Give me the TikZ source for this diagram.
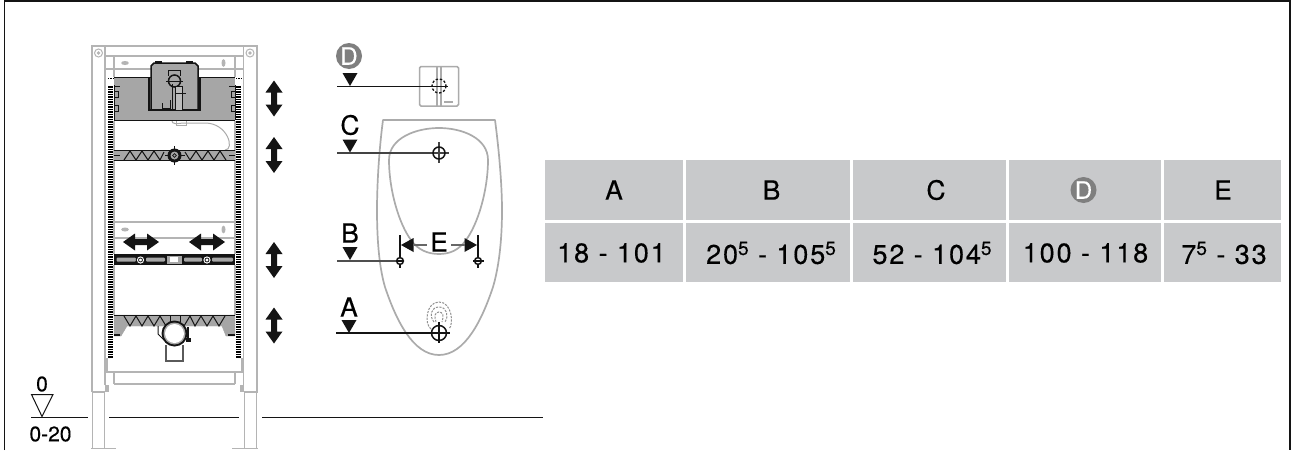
\documentclass[tikz,border=0pt]{standalone}
\usepackage{fontspec}
\setmainfont[FakeBold=0.3]{TeX Gyre Heros}
\newfontfamily\numf[LetterSpace=7,FakeBold=0.3]{TeX Gyre Heros}
\newcommand{\supf}[1]{\raisebox{0.33em}{\fontsize{19}{19}\selectfont\numf #1}}
\definecolor{cellg}{HTML}{C8C9CB}
\definecolor{fr}{HTML}{B4B4B4}
\definecolor{plate}{HTML}{A6A6A6}
\definecolor{ink}{HTML}{141414}
\definecolor{uri}{HTML}{ABABAB}
\definecolor{dee}{HTML}{7F7F7F}
\tikzset{
 x=1pt,y=-1pt,
 cell/.style={fill=cellg,draw=none,inner sep=0,outer sep=0},
 hdr/.style={font=\fontsize{26.5}{26.5}\selectfont,text=black,inner sep=0},
 val/.style={font=\fontsize{27}{27}\selectfont\numf,text=black,inner sep=0},
 lab/.style={font=\fontsize{26.5}{26.5}\selectfont,text=black,inner sep=0},
 deeglyph/.style={font=\fontsize{24}{24}\selectfont,text=white,inner sep=0},
 frameline/.style={draw=fr,line width=1.8},
 darkline/.style={draw=ink,line width=1.6},
 ruleline/.style={draw=ink,line width=1.6},
 rack/.style={draw=black,line width=5.5,dash pattern=on 1.5 off 1},
 bigarrow/.style={fill=ink,draw=none},
 markline/.style={draw=ink,line width=1.5},
 dashm/.style={draw=uri!85!black,line width=1,dash pattern=on 2.2 off 1.2},
 uriline/.style={draw=uri,line width=1.7},
}
\newcommand{\vdarrow}[2]{% centre y, x
 \fill[bigarrow] (#2,#1-18) -- (#2+8.5,#1-6) -- (#2+3,#1-6) -- (#2+3,#1+6) -- (#2+8.5,#1+6) -- (#2,#1+18) -- (#2-8.5,#1+6) -- (#2-3,#1+6) -- (#2-3,#1-6) -- (#2-8.5,#1-6) -- cycle;}
\newcommand{\hdarrow}[2]{% centre x, y
 \fill[bigarrow] (#1-18,#2) -- (#1-6,#2-8.5) -- (#1-6,#2-3) -- (#1+6,#2-3) -- (#1+6,#2-8.5) -- (#1+18,#2) -- (#1+6,#2+8.5) -- (#1+6,#2+3) -- (#1-6,#2+3) -- (#1-6,#2+8.5) -- cycle;}
\newcommand{\tri}[2]{% centre x, bottom y
 \fill[ink] (#1-7.5,#2-13) -- (#1+7.5,#2-13) -- (#1,#2) -- cycle;}
\begin{document}
\begin{tikzpicture}
\useasboundingbox (0,0) rectangle (1292,450);
\fill[white] (0,0) rectangle (1292,450);
% page frame
\draw[draw=ink,line width=1.2] (4.5,450) -- (4.5,1) -- (1290,1) -- (1290,450);

% ---------- table
\path[cell] (545,160) rectangle (683,220);
\path[cell] (685.5,160) rectangle (850,220);
\path[cell] (852.5,160) rectangle (1006,220);
\path[cell] (1008.5,160) rectangle (1161,220);
\path[cell] (1163.5,160) rectangle (1281,220);
\path[cell] (545,222.5) rectangle (683,282);
\path[cell] (685.5,222.5) rectangle (850,282);
\path[cell] (852.5,222.5) rectangle (1006,282);
\path[cell] (1008.5,222.5) rectangle (1161,282);
\path[cell] (1163.5,222.5) rectangle (1281,282);
\node[hdr] (hA) at (614,190) {A};
\node[hdr] (hB) at (771.5,190) {B};
\node[hdr] (hC) at (936,190) {C};
\node[circle,fill=dee,minimum size=26,inner sep=0] (hDc) at (1083.5,190) {};
\node[deeglyph] (hD) at (1083.5,190) {D};
\node[hdr] (hE) at (1223,190) {E};
\node[val] (vA) at (611.5,253) {18 - 101};
\node[val] (vB) at (771,253) {20\supf{5} - 105\supf{5}};
\node[val] (vC) at (932,253) {52 - 104\supf{5}};
\node[val] (vD) at (1085.5,253) {100 - 118};
\node[val] (vE) at (1224,253) {7\supf{5} - 33};

% ---------- ground
\draw[ruleline] (31,417.5) -- (88,417.5);
\draw[ruleline] (109,417.5) -- (239,417.5);
\draw[ruleline] (262,417.5) -- (543,417.5);
\draw[draw=ink,line width=1] (31.5,394.5) -- (53,394.5) -- (42,416.5) -- cycle;
\node[font=\fontsize{21}{21}\selectfont,inner sep=0] (zero) at (42,384) {0};
\node[font=\fontsize{21}{21}\selectfont,inner sep=0] (range) at (50.5,434) {0-20};

% ---------- frame
\draw[frameline] (92,392) -- (92,46) -- (257,46) -- (257,392) -- (244,392);
\draw[frameline] (92,392) -- (105,392);
\draw[frameline] (105,385) -- (105,46);
\draw[frameline] (243.5,385) -- (243.5,46);
\draw[frameline] (105,56) -- (243.5,56);
\draw[frameline] (114,57) -- (114,77);
\draw[frameline] (235,57) -- (235,77);
\draw[frameline] (105,69) -- (151,69);
\draw[frameline] (198,69) -- (243.5,69);
\draw[frameline] (92.5,392) -- (92.5,448) ;
\draw[frameline] (104.5,392) -- (104.5,448);
\draw[frameline] (256.5,392) -- (256.5,448);
\draw[frameline] (244.5,392) -- (244.5,448);
\draw[frameline] (91,448.5) -- (116,448.5);
\draw[frameline] (232,448.5) -- (258,448.5);
\fill[fr] (105,392) -- (109,392) -- (109,385) -- (105,385) -- cycle;
\fill[fr] (240,392) -- (244,392) -- (244,385) -- (240,385) -- cycle;
\draw[frameline,line width=1] (98.5,53) circle (4);
\fill[fr] (98.5,53) circle (1.8);
\draw[frameline,line width=1] (250,53) circle (4);
\fill[fr] (250,53) circle (1.8);
% rails
\draw[frameline] (114,222) -- (235,222);
\draw[frameline] (114,238) -- (235,238);
\draw[frameline] (114,372) -- (235,372);
\draw[frameline] (114,384) -- (235,384);
\draw[frameline] (114,372) -- (114,384);
\draw[frameline] (235,372) -- (235,384);
\draw[frameline] (107,358) -- (107,372) -- (114,372);
\draw[frameline] (242,358) -- (242,372) -- (235,372);
\draw[frameline] (114,121) -- (114,254);
\draw[frameline] (235,121) -- (235,254);
\draw[frameline] (114,265) -- (114,315);
\draw[frameline] (235,265) -- (235,315);
% small slot marks on rails
\foreach \yy in {63,229.5} {
 \fill[fr] (125,\yy) ellipse (3.8 and 2);
 \fill[fr] (223.5,\yy) ellipse (2 and 3.8);
}
% racks
\draw[rack] (110.5,86) -- (110.5,358);
\draw[rack] (238.5,86) -- (238.5,358);
\draw[draw=black,line width=.9,dash pattern=on 1.2 off 1.2] (108,78) -- (114,78);
\draw[draw=black,line width=.9,dash pattern=on 1.2 off 1.2] (236,78) -- (241,78);

% hose behind plate
\draw[draw=uri,line width=1] (172,121) .. controls (172,124) and (176,124) .. (183,123) -- (205,123)
  .. controls (228,123) and (235,150) .. (225,150);
\draw[draw=uri,line width=1] (176,121) -- (176,125) -- (186,125) -- (186,121);

% top plate
\path[fill=plate] (114,77) rectangle (235,121);
\draw[darkline] (114,77.5) -- (235,77.5);
\draw[draw=ink,line width=1.8] (114,120.5) -- (235,120.5);
\draw[draw=ink,line width=1] (114,85) -- (114,120);
\draw[draw=ink,line width=1] (235,85) -- (235,120);
\foreach \yy in {91,105} {
 \draw[draw=ink,line width=1] (114,\yy) -- (118,\yy) -- (118,\yy+6) -- (114,\yy+6);
 \draw[draw=ink,line width=1] (235,\yy) -- (231,\yy) -- (231,\yy+6) -- (235,\yy+6);
}
\draw[draw=ink,line width=1] (114,86) -- (120,86);
\draw[draw=ink,line width=1] (229,86) -- (235,86);
% cistern box
\draw[draw=ink,line width=1.5,fill=plate] (149,110) -- (151,110) -- (151,66) -- (154,63) -- (195,63) -- (198,66) -- (198,110) -- (200,110);
\draw[draw=ink,line width=1.5] (149,77) -- (149,110) -- (200,110) -- (200,77);
\fill[ink] (155,63) rectangle (162,61);
\fill[ink] (186,63) rectangle (193,61);
\draw[draw=ink,line width=.8] (168,70) -- (180,70) -- (180,76);
\draw[draw=ink,line width=.8] (168,70) -- (168,76);
\draw[draw=ink,line width=1.5] (174.5,81) circle (6);
\draw[draw=ink,line width=.8] (166,81) -- (183,81);
\draw[draw=ink,line width=.8,fill=plate!75!white] (175,86) rectangle (182,110);
\draw[draw=ink,line width=.8] (175,93) -- (186,93);
\draw[draw=ink,line width=.9] (162,103) -- (162,108) -- (170,108);
\draw[draw=ink,line width=.8] (170,100) -- (170,110);
\draw[draw=ink,line width=.8] (172,84) -- (172,110);

% second bar
\path[fill=plate] (114,150) rectangle (235,161);
\draw[darkline] (114,150.5) -- (235,150.5);
\draw[draw=ink,line width=1.8] (114,160.5) -- (235,160.5);
\draw[draw=ink,line width=1] (124,160) -- (130,151) -- (136,160) -- (142,151) -- (148,160) -- (154,151) -- (160,160) -- (164,152);
\draw[draw=ink,line width=1] (226,160) -- (220,151) -- (214,160) -- (208,151) -- (202,160) -- (196,151) -- (190,160) -- (185,152);
\draw[draw=ink,line width=1.2] (114,155.5) -- (120,155.5);
\draw[draw=ink,line width=1.2] (229,155.5) -- (235,155.5);
\fill[ink] (174.5,155.5) circle (7);
\draw[draw=ink,line width=.8] (174.5,146) -- (174.5,165);
\draw[draw=ink,line width=.8] (165,155.5) -- (185,155.5);
\fill[plate] (174.5,155.5) circle (4);
\draw[draw=ink,line width=.7] (174.5,155.5) circle (1.8);

% third bar
\path[fill=ink] (114,254) rectangle (235,265);
\path[fill=plate,rounded corners=1] (116.5,257.5) rectangle (136,261.5);
\path[fill=plate,rounded corners=1] (146,257.5) rectangle (165,261.5);
\path[fill=plate,rounded corners=1] (184,257.5) rectangle (202,261.5);
\path[fill=plate,rounded corners=1] (212,257.5) rectangle (233,261.5);
\path[fill=plate] (167,255.5) rectangle (182,263.5);
\path[fill=white] (170,257) rectangle (178,262);
\foreach \xx in {140.5,207} {
 \fill[ink] (\xx,260) circle (4.8);
 \fill[white] (\xx,260) circle (3.6);
 \draw[draw=ink,line width=.8] (\xx,260) circle (2);
}

% bottom bar
\path[fill=plate,draw=plate] (114,315) -- (235,315) -- (235,336) -- (226,336) -- (222,326) -- (127,326) -- (121,336) -- (114,336) -- cycle;
\draw[darkline] (114,315.5) -- (235,315.5);
\draw[draw=ink,line width=2.4] (114,335) -- (120,335);
\draw[draw=ink,line width=2.4] (228,335) -- (235,335);
\draw[draw=ink,line width=1] (124,316) -- (130,326) -- (136,316) -- (142,326) -- (148,316) -- (154,326) -- (160,316) -- (166,326);
\draw[draw=ink,line width=1] (225,316) -- (219,326) -- (213,316) -- (207,326) -- (201,316) -- (195,326) -- (190,316) -- (184,326);
\draw[draw=ink,line width=1] (158,326) -- (158,334) -- (164,340);
\draw[draw=ink,line width=.8] (170,316) -- (170,322);
\draw[draw=ink,line width=.8] (180,316) -- (180,322);
\draw[draw=ink!70,line width=1.2] (166,345) -- (166,361) -- (183,361) -- (183,345);
\draw[draw=ink,line width=1.4] (188,327) -- (188,341);
\fill[ink] (186,338) rectangle (191,342);
\fill[ink] (174.5,333.5) circle (13);
\fill[plate] (174.5,333.5) circle (11);
\fill[white] (174.5,333.5) circle (9.5);

% adjust arrows
\vdarrow{98.5}{274}
\vdarrow{155}{274}
\vdarrow{260}{274}
\vdarrow{325.5}{274}
\hdarrow{141}{242}
\hdarrow{207}{242}

% ---------- datum labels
\node[circle,fill=dee,minimum size=26,inner sep=0] (Dc) at (349,56) {};
\node[deeglyph] (Dl) at (349,56) {D};
\node[lab] (Cl) at (350,125) {C};
\node[lab] (Bl) at (350,233) {B};
\node[lab] (Al) at (349,307) {A};
\tri{350}{86}
\tri{350}{152.5}
\tri{350}{260}
\tri{349}{333}

% flush plate
\draw[draw=uri,line width=1.5,rounded corners=1.5] (419.5,66.5) rectangle (458.5,106);
\draw[draw=uri,line width=1.2] (437,66.5) -- (437,106);
\draw[draw=uri,line width=1.2] (441,66.5) -- (441,106);
\fill[uri] (444,101) rectangle (453,102.5);
\draw[draw=ink,line width=1.3,dash pattern=on 2.4 off 1.8] (439,86) circle (7);
\draw[markline] (337,86.5) -- (448,86.5);

% urinal
\draw[uriline,line join=round] (383,120) -- (495,120) .. controls (499,150) and (502,185) .. (502,210)
 .. controls (502,245) and (498,270) .. (493,287)
 .. controls (482,320) and (465,355) .. (439,355)
 .. controls (413,355) and (396,320) .. (385,287)
 .. controls (380,270) and (377,245) .. (377,210)
 .. controls (377,185) and (379,150) .. (383,120) -- cycle;
\draw[uriline] (439,128) .. controls (462,128) and (488,138) .. (488,160)
 .. controls (488,190) and (478,224) .. (466,240)
 .. controls (459,250) and (450,254) .. (439,254)
 .. controls (428,254) and (418,250) .. (411,240)
 .. controls (399,224) and (389,190) .. (389,160)
 .. controls (389,138) and (416,128) .. (439,128) -- cycle;

% C centre
\draw[draw=ink!80,line width=1.5] (337,153) -- (449,153);
\draw[draw=ink!80,line width=1.2] (439,142) -- (439,163);
\draw[markline] (439,153) circle (6);

% B holes and E dimension
\draw[draw=ink!75,line width=1.5] (337,261) -- (400,261);
\draw[markline] (400,235) -- (400,268);
\draw[markline] (478,235) -- (478,268);
\draw[markline] (473,261) -- (484,261);
\draw[markline,fill=white] (400,261) circle (3.4);
\draw[markline,fill=white] (478,261) circle (3.4);
\draw[markline] (396.4,261) -- (403.6,261);
\draw[markline] (474.4,261) -- (481.6,261);
\fill[ink] (401,245) -- (413.5,238) -- (413.5,252) -- cycle;
\fill[ink] (477,245) -- (464.5,238) -- (464.5,252) -- cycle;
\draw[draw=uri!60!black,line width=1.1] (413,245) -- (427,245);
\draw[draw=uri!60!black,line width=1.1] (451,245) -- (465,245);
\node[lab] (El) at (439,242) {E};

% A drain
\draw[dashm] (431,329) .. controls (424,324) and (426,302) .. (439,302) .. controls (452,302) and (454,324) .. (449,329);
\draw[dashm] (434,322) .. controls (429,316) and (431,307) .. (439,307) .. controls (447,307) and (449,316) .. (445,322);
\draw[dashm] (436,322) .. controls (434,316) and (435,312) .. (439,312) .. controls (443,312) and (444,316) .. (442,322);
\draw[markline] (336,333) -- (450,333);
\draw[markline] (439,322) -- (439,343);
\draw[draw=ink,line width=1.5] (439,333) circle (7.5);
\end{tikzpicture}
\end{document}
